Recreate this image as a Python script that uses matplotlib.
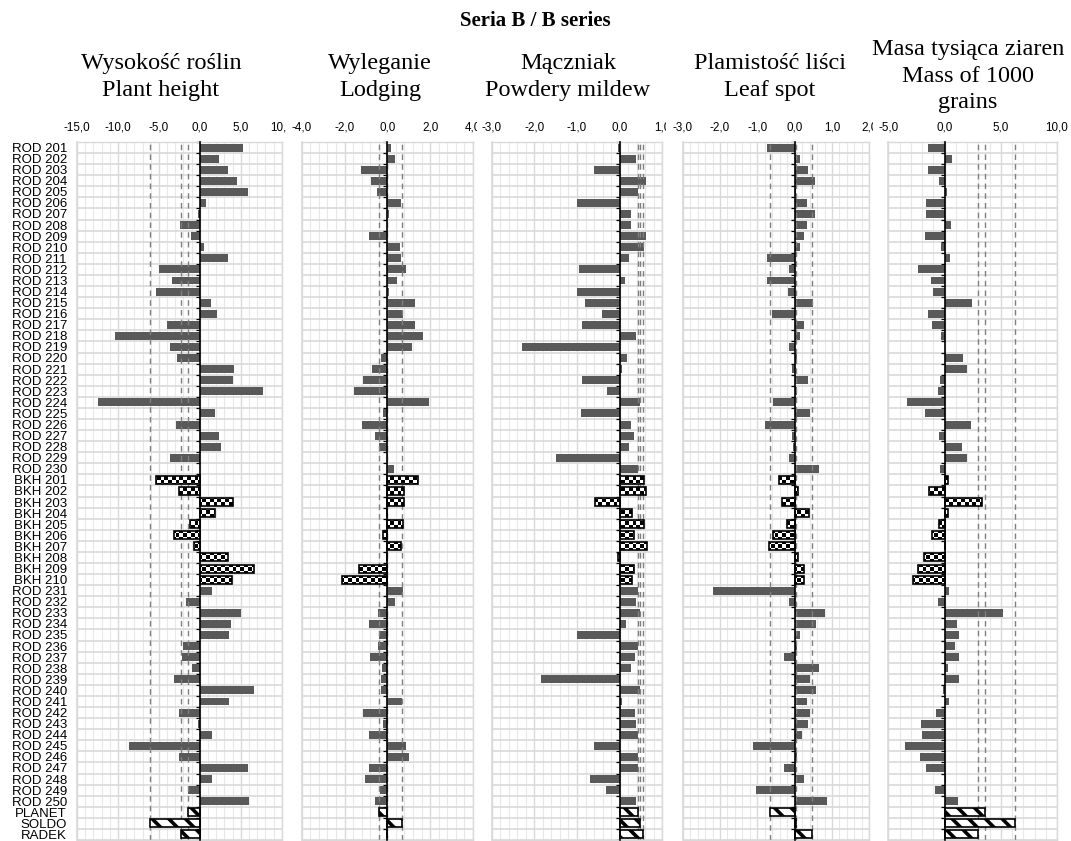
import numpy as np
import matplotlib
matplotlib.use("Agg")
import matplotlib.pyplot as plt
from matplotlib.path import Path
from matplotlib.transforms import Bbox, TransformedBbox, blended_transform_factory, offset_copy

plt.rcParams['hatch.linewidth'] = 2.6

# ---------------- data ----------------
rows = ["ROD 201", "ROD 202", "ROD 203", "ROD 204", "ROD 205", "ROD 206", "ROD 207", "ROD 208",
        "ROD 209", "ROD 210", "ROD 211", "ROD 212", "ROD 213", "ROD 214", "ROD 215", "ROD 216",
        "ROD 217", "ROD 218", "ROD 219", "ROD 220", "ROD 221", "ROD 222", "ROD 223", "ROD 224",
        "ROD 225", "ROD 226", "ROD 227", "ROD 228", "ROD 229", "ROD 230",
        "BKH 201", "BKH 202", "BKH 203", "BKH 204", "BKH 205", "BKH 206", "BKH 207", "BKH 208",
        "BKH 209", "BKH 210",
        "ROD 231", "ROD 232", "ROD 233", "ROD 234", "ROD 235", "ROD 236", "ROD 237", "ROD 238",
        "ROD 239", "ROD 240", "ROD 241", "ROD 242", "ROD 243", "ROD 244", "ROD 245", "ROD 246",
        "ROD 247", "ROD 248", "ROD 249", "ROD 250",
        "PLANET", "SOLDO", "RADEK"]

plant_height = [5.3, 2.4, 3.4, 4.6, 5.9, 0.8, -0.25, -2.4, -1.1, 0.5,
                3.4, -5.0, -3.4, -5.4, 1.4, 2.1, -4.0, -10.4, -3.7, -2.8,
                4.2, 4.0, 7.7, -12.4, 1.8, -2.9, 2.4, 2.6, -3.7, 0.0,
                -5.4, -2.6, 4.1, 1.8, -1.2, -3.2, -0.7, 3.4, 6.6, 3.9,
                1.5, -1.7, 5.0, 3.8, 3.6, -2.1, -2.2, -0.9, -3.2, 6.6,
                3.6, -2.6, -0.2, 1.5, -8.6, -2.6, 5.9, 1.5, -1.4, 6.0,
                -1.45, -6.1, -2.35]

lodging = [0.15, 0.35, -1.23, -0.78, -0.48, 0.66, 0.09, 0.0, -0.88, 0.6,
           0.66, 0.85, 0.45, 0.06, 1.31, 0.75, 1.31, 1.65, 1.14, -0.29,
           -0.74, -1.14, -1.54, 1.95, -0.18, -1.18, -0.58, -0.37, 0.05, 0.29,
           1.43, 0.78, 0.78, 0.0, 0.75, -0.2, 0.66, 0.0, -1.34, -2.14,
           0.75, 0.35, -0.42, -0.88, -0.37, -0.42, -0.83, -0.23, -0.29, -0.29,
           0.69, -1.14, -0.18, -0.88, 0.89, 1.0, -0.88, -1.03, -0.34, -0.6,
           -0.37, 0.68, 0.0]

powdery_mildew = [-0.05, 0.39, -0.6, 0.62, 0.44, -1.0, 0.27, 0.27, 0.62, 0.56,
                  0.22, -0.95, 0.12, -1.0, -0.82, -0.42, -0.88, 0.39, -2.28, 0.17,
                  0.06, -0.88, -0.3, 0.48, -0.9, 0.27, 0.34, 0.22, -1.5, 0.44,
                  0.56, 0.62, -0.57, 0.28, 0.56, 0.33, 0.65, -0.05, 0.33, 0.28,
                  0.44, 0.39, 0.48, 0.16, -1.0, 0.44, 0.35, 0.27, -1.85, 0.48,
                  0.06, 0.35, 0.39, 0.44, -0.6, 0.44, 0.44, -0.7, -0.33, 0.39,
                  0.42, 0.48, 0.54]

leaf_spot = [-0.74, 0.13, 0.36, 0.55, 0.04, 0.33, 0.55, 0.33, 0.26, 0.13,
             -0.74, -0.14, -0.74, -0.17, 0.48, -0.61, 0.26, 0.13, -0.14, 0.07,
             -0.08, 0.36, 0.07, -0.58, 0.42, -0.8, -0.08, -0.04, -0.14, 0.64,
             -0.43, 0.09, -0.35, 0.38, -0.2, -0.58, -0.7, 0.09, 0.25, 0.25,
             -2.19, -0.14, 0.8, 0.58, 0.13, 0.06, -0.29, 0.64, 0.42, 0.58,
             0.33, 0.42, 0.36, 0.2, -1.12, 0.06, -0.29, 0.26, -1.03, 0.87,
             -0.67, 0.04, 0.46]

tkw = [-1.44, 0.68, -1.44, -0.5, 0.2, -1.62, -1.62, 0.59, -1.7, -0.32,
       0.5, -2.35, -1.24, -1.06, 2.47, -1.44, -1.15, -0.32, 0.0, 1.65,
       2.03, -0.41, -0.59, -3.32, -1.7, 2.38, -0.5, 1.53, 2.03, -0.41,
       0.35, -1.41, 3.35, 0.35, -0.47, -1.15, 0.06, -1.8, -2.35, -2.82,
       0.41, -0.59, 5.2, 1.15, 1.32, 0.97, 1.32, 0.29, 1.32, -0.1,
       0.38, -0.76, -2.09, -2.0, -3.5, -2.18, -1.62, 0.09, -0.85, 1.24,
       3.6, 6.3, 3.0]

series = [plant_height, lodging, powdery_mildew, leaf_spot, tkw]

titles = [["Wysokość roślin", "Plant height"],
          ["Wyleganie", "Lodging"],
          ["Mączniak", "Powdery mildew"],
          ["Plamistość liści", "Leaf spot"],
          ["Masa tysiąca ziaren", "Mass of 1000", "grains"]]

xlims = [(-15, 10), (-4, 4), (-3, 1), (-3, 2), (-5, 10)]
major_ticks = [[-15, -10, -5, 0, 5, 10], [-4, -2, 0, 2, 4], [-3, -2, -1, 0, 1],
               [-3, -2, -1, 0, 1, 2], [-5, 0, 5, 10]]
tick_labels = [["-15,0", "-10,0", "-5,0", "0,0", "5,0", "10,0"],
               ["-4,0", "-2,0", "0,0", "2,0", "4,0"],
               ["-3,0", "-2,0", "-1,0", "0,0", "1,0"],
               ["-3,0", "-2,0", "-1,0", "0,0", "1,0", "2,0"],
               ["-5,0", "0,0", "5,0", "10,0"]]
minor_step = [1.0, 0.4, 0.2, 0.2, 1.0]

main_title = "Seria B / B series"

# ---------------- layout ----------------
W, H = 1071, 841
fig = plt.figure(figsize=(W / 100, H / 100), dpi=100)

panel_px = [(77, 281.7), (301.7, 473), (491.7, 662.3), (682.7, 869.3), (888.3, 1057)]
clip_px = [(0, 286), (286, 477), (477, 666), (666, 873), (873, W)]
title_cx = [161, 380, 568, 770, 968]
title_base = [[69, 96], [69, 96], [69, 96], [69, 96], [55, 82, 108]]
top_px, bot_px = 142, 840

SANS = ['Liberation Sans', 'DejaVu Sans']
SERIF = ['Liberation Serif', 'DejaVu Serif']

n = len(rows)
ypos = np.arange(n)
kind = np.array(['bkh' if r.startswith('BKH') else ('rod' if r.startswith('ROD') else 'chk') for r in rows])
BAR_H = 0.72
axes = []

for k in range(5):
    x0, x1 = panel_px[k]
    ax = fig.add_axes([x0 / W, 1 - bot_px / H, (x1 - x0) / W, (bot_px - top_px) / H])
    axes.append(ax)
    vals = np.array(series[k], dtype=float)
    xmin, xmax = xlims[k]

    rod = kind == 'rod'
    bkh = kind == 'bkh'
    chk = kind == 'chk'

    ax.barh(ypos[rod], vals[rod], height=BAR_H, color='#595959', edgecolor='none', zorder=2)

    # dashed reference lines at the check varieties' values
    for v in vals[chk]:
        ax.axvline(v, color='#7f7f7f', ls=(0, (4, 3)), lw=1.0, zorder=2.5)

    # checkered bars (BKH)
    bk = ax.barh(ypos[bkh], vals[bkh], height=BAR_H, color='white', edgecolor='none', zorder=3)
    w_px = x1 - x0
    h_px = bot_px - top_px
    nx = int(round(w_px / 3.8))
    ny = int(round(h_px / 3.8))
    arr = np.add.outer(np.arange(ny), np.arange(nx)) % 2
    im = ax.imshow(arr, cmap='binary', interpolation='nearest', aspect='auto',
                   extent=(xmin, xmax, n - 0.5, -0.5), origin='upper', zorder=3.2)
    paths = [b.get_path().transformed(b.get_patch_transform()) for b in bk]
    comp = Path.make_compound_path(*paths)
    im.set_clip_path(comp, ax.transData)
    ax.barh(ypos[bkh], vals[bkh], height=BAR_H, facecolor='none', edgecolor='black',
            lw=1.2, zorder=3.4)

    # hatched bars (check varieties)
    ax.barh(ypos[chk], vals[chk], height=BAR_H, color='white', edgecolor='black',
            hatch='\\\\', lw=1.2, zorder=3.4)

    ax.set_xlim(xmin, xmax)
    ax.set_ylim(n - 0.5, -0.5)

    # grid
    ax.set_axisbelow(True)
    ax.set_yticks(np.arange(-0.5, n, 1.0))
    ax.set_xticks(major_ticks[k])
    ax.set_xticks(np.arange(xmin, xmax + 1e-9, minor_step[k]), minor=True)
    ax.grid(axis='y', which='major', color='#d9d9d9', lw=1.2)
    ax.grid(axis='x', which='major', color='#d9d9d9', lw=1.0)
    ax.grid(axis='x', which='minor', color='#e8e8e8', lw=0.8)
    ax.tick_params(axis='x', which='both', length=0, labelbottom=False, labeltop=False)
    ax.tick_params(axis='y', which='major', direction='out', length=2.6, width=0.9,
                   color='black', labelleft=False)
    ax.tick_params(axis='y', which='minor', length=0)

    for s in ['top', 'right', 'bottom']:
        ax.spines[s].set_color('#d9d9d9')
        ax.spines[s].set_linewidth(1.0)
    ax.spines['left'].set_position(('data', 0))
    ax.spines['left'].set_color('black')
    ax.spines['left'].set_linewidth(1.2)
    ax.spines['left'].set_zorder(6)
    ax.plot([0, 0], [0, 1], transform=ax.transAxes, color='#d9d9d9', lw=1.2,
            clip_on=False, zorder=0.6)

    # tick labels on top, clipped to each chart's own area
    tr = blended_transform_factory(ax.transData, fig.transFigure)
    cb = TransformedBbox(Bbox.from_extents(clip_px[k][0] / W, 0, clip_px[k][1] / W, 1),
                         fig.transFigure)
    for v, s in zip(major_ticks[k], tick_labels[k]):
        t = fig.text(v, 1 - 128 / H, s, transform=tr, ha='center', va='center',
                     fontsize=8.4, family=SANS, color='black')
        t.set_clip_box(cb)
        t.set_clip_on(True)

    # panel title
    for line, base in zip(titles[k], title_base[k]):
        fig.text(title_cx[k] / W, 1 - base / H, line, ha='center', va='baseline',
                 fontsize=17.5, family=SERIF, color='black')

# row labels
lab_tr = offset_copy(blended_transform_factory(fig.transFigure, axes[0].transData),
                     fig=fig, y=-3.2, units='points')
for i, r in enumerate(rows):
    fig.text(67 / W, i, r, transform=lab_tr, ha='right', va='baseline',
             fontsize=9.5, family=SANS, color='black')

fig.text(535.5 / W, 1 - 26 / H, main_title, ha='center', va='baseline',
         fontsize=15, fontweight='bold', family=SERIF)

fig.savefig("out.png", dpi=100)
